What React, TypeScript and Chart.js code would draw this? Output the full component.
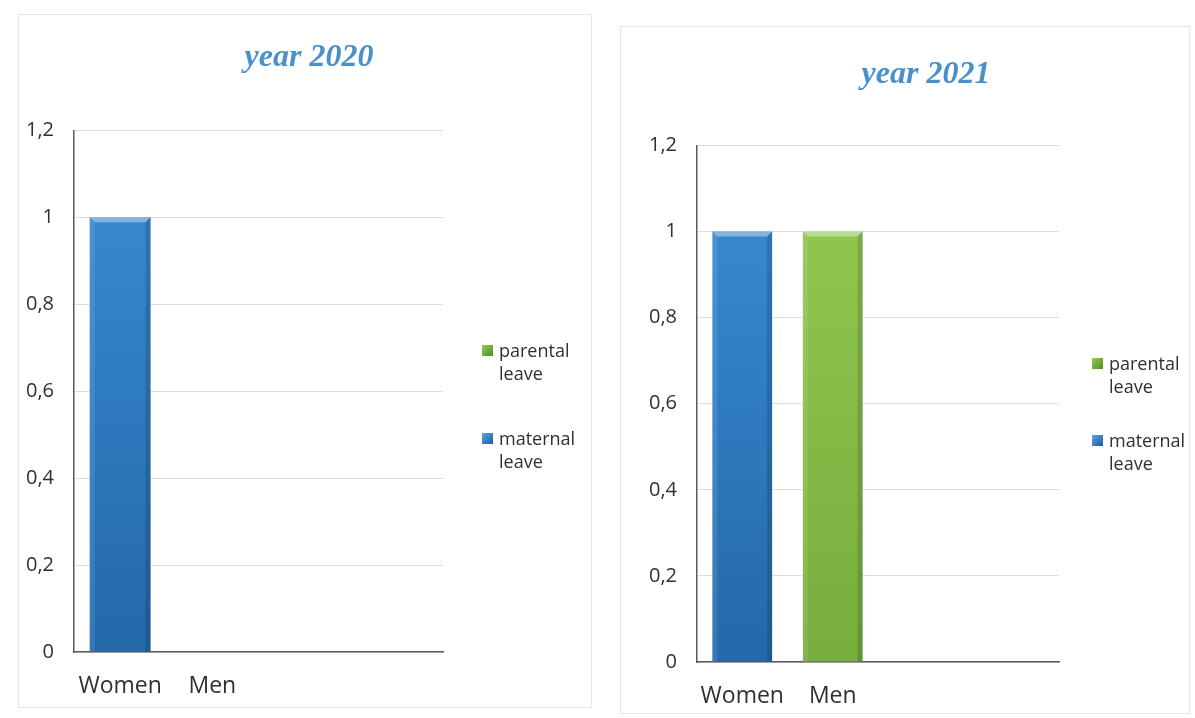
import React, { useEffect, useRef } from "react";
import { Chart, registerables } from "chart.js";

Chart.register(...registerables);

// ---- data ----
const categories = ["Women", "Men", "", ""];
const seriesNames = ["parental leave", "maternal leave"];

const parental2020 = [0, 0, null, null];
const maternal2020 = [1, 0, null, null];

const parental2021 = [0, 1, null, null];
const maternal2021 = [1, 0, null, null];

const yTickLabels = ["0", "0,2", "0,4", "0,6", "0,8", "1", "1,2"];

// ---- styling ----
const BLUE_TOP = "#3a8ed3";
const BLUE_BOTTOM = "#2468ab";
const GREEN_TOP = "#94cb52";
const GREEN_BOTTOM = "#76ad3d";
const TEXT = "#303030";
const TITLE_COLOR = "#4a90cc";
const UI_FONT = "'Open Sans', 'Noto Sans', sans-serif";

type PanelSpec = {
  title: string;
  parental: (number | null)[];
  maternal: (number | null)[];
  left: number;
  top: number;
  width: number;
  height: number;
  titleShift: number;
  yAxisWidth: number;
  rightSpace: number;
  xAxisHeight: number;
  titleTop: number;
  titleBottom: number;
  xLabelPad: number;
  legendLeft: number;
  legendTops: number[];
};

// Soft bevel on each bar: lighter top edge, lighter left side, darker right side.
const bevelPlugin = {
  id: "bevel",
  afterDatasetsDraw(chart: any) {
    const ctx = chart.ctx as CanvasRenderingContext2D;
    chart.data.datasets.forEach((ds: any, di: number) => {
      const meta = chart.getDatasetMeta(di);
      meta.data.forEach((bar: any, i: number) => {
        const v = ds.data[i];
        if (!v) return;
        const p = bar.getProps(["x", "y", "base", "width"], true);
        const l = p.x - p.width / 2;
        const r = p.x + p.width / 2;
        const t = Math.min(p.y, p.base);
        const b = Math.max(p.y, p.base);
        const e = 5;
        ctx.save();
        ctx.fillStyle = "rgba(255,255,255,0.38)";
        ctx.beginPath();
        ctx.moveTo(l, t);
        ctx.lineTo(r, t);
        ctx.lineTo(r - e, t + e);
        ctx.lineTo(l + e, t + e);
        ctx.closePath();
        ctx.fill();
        ctx.fillStyle = "rgba(255,255,255,0.10)";
        ctx.beginPath();
        ctx.moveTo(l, t);
        ctx.lineTo(l + e, t + e);
        ctx.lineTo(l + e, b);
        ctx.lineTo(l, b);
        ctx.closePath();
        ctx.fill();
        ctx.fillStyle = "rgba(0,0,0,0.14)";
        ctx.beginPath();
        ctx.moveTo(r, t);
        ctx.lineTo(r - e, t + e);
        ctx.lineTo(r - e, b);
        ctx.lineTo(r, b);
        ctx.closePath();
        ctx.fill();
        ctx.restore();
      });
    });
  },
};

function verticalFill(top: string, bottom: string) {
  return (c: any) => {
    const { ctx, chartArea } = c.chart;
    if (!chartArea) return top;
    const g = ctx.createLinearGradient(0, chartArea.top, 0, chartArea.bottom);
    g.addColorStop(0, top);
    g.addColorStop(1, bottom);
    return g;
  };
}

function Panel({ spec }: { spec: PanelSpec }) {
  const ref = useRef<HTMLCanvasElement | null>(null);

  useEffect(() => {
    if (!ref.current) return;
    const chart = new Chart(ref.current, {
      type: "bar",
      data: {
        labels: categories,
        datasets: [
          {
            label: seriesNames[0],
            data: spec.parental,
            backgroundColor: verticalFill(GREEN_TOP, GREEN_BOTTOM),
            borderWidth: 0,
            barPercentage: 0.66,
            categoryPercentage: 1,
          },
          {
            label: seriesNames[1],
            data: spec.maternal,
            backgroundColor: verticalFill(BLUE_TOP, BLUE_BOTTOM),
            borderWidth: 0,
            barPercentage: 0.66,
            categoryPercentage: 1,
          },
        ],
      },
      options: {
        responsive: false,
        animation: false,
        devicePixelRatio: 1,
        // a negative right padding moves the centred title a little to the right
        layout: { padding: { left: 0, right: -spec.titleShift * 2, top: 0, bottom: 0 } },
        plugins: {
          legend: { display: false },
          tooltip: { enabled: false },
          title: {
            display: true,
            text: spec.title,
            color: TITLE_COLOR,
            font: { family: "'Liberation Serif', 'DejaVu Serif', serif", size: 32, style: "italic", weight: "bold", lineHeight: 1.2 },
            padding: { top: spec.titleTop, bottom: spec.titleBottom },
          },
        },
        scales: {
          x: {
            stacked: true,
            grid: { display: false, drawTicks: false },
            border: { display: true, color: "#5a5a5a", width: 1.5 },
            ticks: {
              color: TEXT,
              font: { family: UI_FONT, size: 23 },
              padding: spec.xLabelPad,
              maxRotation: 0,
              autoSkip: false,
            },
            afterFit: (s: any) => {
              s.height = spec.xAxisHeight;
            },
          },
          y: {
            stacked: true,
            min: 0,
            max: 1.2,
            ticks: {
              stepSize: 0.2,
              color: TEXT,
              padding: 20,
              font: { family: UI_FONT, size: 20 },
              callback: (_v: any, idx: number) => yTickLabels[idx],
            },
            grid: { color: "#dcdcdc", lineWidth: 1, drawTicks: false },
            border: { display: true, color: "#5a5a5a", width: 1.5 },
            afterFit: (s: any) => {
              s.width = spec.yAxisWidth;
            },
          },
          // empty band on the right that leaves room for the legend
          legendBand: {
            type: "linear",
            position: "right",
            display: true,
            grid: { display: false, drawTicks: false },
            border: { display: false },
            ticks: { display: false },
            afterFit: (s: any) => {
              s.width = spec.rightSpace + spec.titleShift * 2;
            },
          },
        },
      } as any,
      plugins: [bevelPlugin],
    });
    return () => chart.destroy();
  }, [spec]);

  const legendItems = [
    { name: seriesNames[0], swatch: "linear-gradient(135deg, #8fd04e, #4f8d2a)" },
    { name: seriesNames[1], swatch: "linear-gradient(135deg, #5aa5e6, #1d5c9c)" },
  ];

  return (
    <>
      <div
        style={{
          position: "absolute",
          left: spec.left,
          top: spec.top,
          width: spec.width,
          height: spec.height,
          boxSizing: "border-box",
          border: "1px solid #e6e6e6",
        }}
      />
      <canvas
        ref={ref}
        width={spec.width}
        height={spec.height}
        style={{ position: "absolute", left: spec.left, top: spec.top, width: spec.width, height: spec.height }}
      />
      {legendItems.map((it, k) => {
        const words = it.name.split(" ");
        return (
          <div
            key={k}
            style={{
              position: "absolute",
              left: spec.legendLeft,
              top: spec.legendTops[k],
              fontFamily: UI_FONT,
              fontSize: 18,
              lineHeight: "23px",
              color: TEXT,
            }}
          >
            <span
              style={{
                position: "absolute",
                left: 0,
                top: 6,
                width: 11,
                height: 11,
                background: it.swatch,
              }}
            />
            <div style={{ marginLeft: 17 }}>{words[0]}</div>
            <div style={{ marginLeft: 17 }}>{words[1]}</div>
          </div>
        );
      })}
    </>
  );
}

const panels: PanelSpec[] = [
  {
    title: "year 2020",
    parental: parental2020,
    maternal: maternal2020,
    left: 18,
    top: 14,
    width: 574,
    height: 694,
    titleShift: 4,
    yAxisWidth: 56,
    rightSpace: 149,
    xAxisHeight: 56,
    titleTop: 25,
    titleBottom: 53,
    xLabelPad: 21,
    legendLeft: 482,
    legendTops: [339, 427],
  },
  {
    title: "year 2021",
    parental: parental2021,
    maternal: maternal2021,
    left: 620,
    top: 26,
    width: 570,
    height: 688,
    titleShift: 21,
    yAxisWidth: 77,
    rightSpace: 131,
    xAxisHeight: 52,
    titleTop: 30,
    titleBottom: 51,
    xLabelPad: 21,
    legendLeft: 1092,
    legendTops: [352, 429],
  },
];

export default function App() {
  return (
    <div style={{ position: "absolute", left: 0, top: 0, width: 1195, height: 718, background: "#ffffff", overflow: "hidden" }}>
      {panels.map((p) => (
        <Panel key={p.title} spec={p} />
      ))}
    </div>
  );
}
